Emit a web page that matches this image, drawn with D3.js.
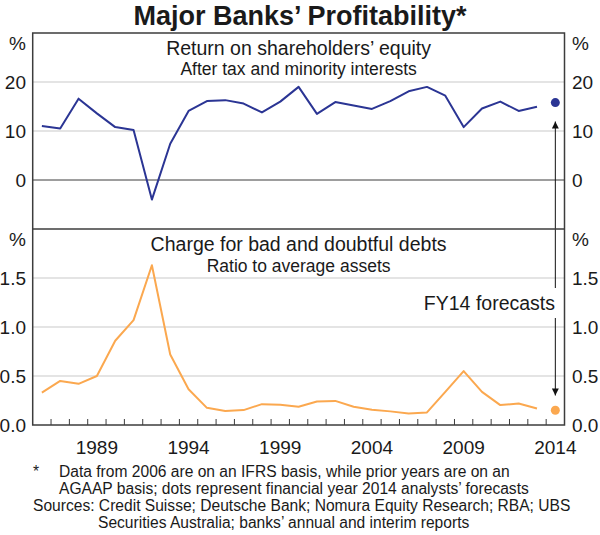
<!DOCTYPE html>
<html>
<head>
<meta charset="utf-8">
<script src="https://cdn.jsdelivr.net/npm/d3@7"></script>
<style>
  body { margin: 0; background: #fff; }
  svg text { font-family: Arial, "Liberation Sans", Helvetica, sans-serif; fill: #1a1a1a; }
</style>
</head>
<body>
<svg id="chart" width="600" height="535"></svg>
<script>
// ---- Data ----
const years = d3.range(1986, 2014); // 1986..2013
const roe = [11.0, 10.5, 16.6, 13.6, 10.8, 10.2, -4.0, 7.4, 14.1, 16.1,
             16.3, 15.6, 13.8, 16.0, 19.0, 13.5, 15.9, 15.2, 14.5, 16.1,
             18.1, 19.0, 17.2, 10.8, 14.6, 16.0, 14.1, 14.95];
const badDebts = [0.33, 0.45, 0.42, 0.50, 0.86, 1.07, 1.63, 0.72, 0.365, 0.175,
                  0.142, 0.152, 0.213, 0.206, 0.186, 0.24, 0.246, 0.186, 0.155, 0.139,
                  0.118, 0.128, 0.338, 0.55, 0.338, 0.203, 0.22, 0.169];
const forecastYear = 2014;
const roeForecast = 15.8;
const badDebtsForecast = 0.15;
const xTickLabels = [1989, 1994, 1999, 2004, 2009, 2014];
const roeTicks = [0, 10, 20];
const badDebtTicks = [0.0, 0.5, 1.0, 1.5];

// ---- Layout ----
const svg = d3.select("#chart");
const L = 32.7, R = 564.5;
const T1 = 33, B1 = 229, T2 = 229, B2 = 425;
const navy = "#2b3594", orange = "#fba84f";
const gridC = "#c9c9c9", frameC = "#3c3c3c";

const x = d3.scaleLinear().domain([1985.5, 2014.5]).range([L, R]);
const y1 = d3.scaleLinear().domain([-10, 30]).range([B1, T1]);
const y2 = d3.scaleLinear().domain([0, 2]).range([B2, T2]);

// Title
svg.append("text").attr("x", 300).attr("y", 25).attr("text-anchor", "middle")
  .style("font-size", "27px").style("font-weight", "bold").text("Major Banks\u2019 Profitability*");

// Gridlines
svg.append("g").selectAll("line").data(roeTicks.filter(d => d !== 0)).join("line")
  .attr("x1", L).attr("x2", R).attr("y1", d => y1(d)).attr("y2", d => y1(d))
  .attr("stroke", gridC).attr("stroke-width", 1);
svg.append("g").selectAll("line").data(badDebtTicks.filter(d => d !== 0)).join("line")
  .attr("x1", L).attr("x2", R).attr("y1", d => y2(d)).attr("y2", d => y2(d))
  .attr("stroke", gridC).attr("stroke-width", 1);

// Zero line top panel
svg.append("line").attr("x1", L).attr("x2", R).attr("y1", y1(0)).attr("y2", y1(0))
  .attr("stroke", frameC).attr("stroke-width", 1);

// X ticks (year boundaries) at bottom of lower panel
const tickBounds = d3.range(1986.5, 2014.5, 1);
svg.append("g").selectAll("line").data(tickBounds).join("line")
  .attr("x1", d => x(d)).attr("x2", d => x(d)).attr("y1", B2).attr("y2", B2 - 6)
  .attr("stroke", frameC).attr("stroke-width", 1);

// Lines
const line1 = d3.line().x((d, i) => x(years[i])).y(d => y1(d));
svg.append("path").datum(roe).attr("d", line1).attr("fill", "none")
  .attr("stroke", navy).attr("stroke-width", 2).attr("stroke-linejoin", "round");
const line2 = d3.line().x((d, i) => x(years[i])).y(d => y2(d));
svg.append("path").datum(badDebts).attr("d", line2).attr("fill", "none")
  .attr("stroke", orange).attr("stroke-width", 2).attr("stroke-linejoin", "round");

// Forecast dots
svg.append("circle").attr("cx", x(forecastYear)).attr("cy", y1(roeForecast)).attr("r", 4.5).attr("fill", navy);
svg.append("circle").attr("cx", x(forecastYear)).attr("cy", y2(badDebtsForecast)).attr("r", 4.5).attr("fill", orange);

// Arrows
const ax = x(forecastYear);
svg.append("defs").html(
  '<marker id="ah" viewBox="0 0 10 10" refX="10" refY="5" markerWidth="8" markerHeight="7" markerUnits="userSpaceOnUse" orient="auto">' +
  '<path d="M0,0 L10,5 L0,10 z" fill="#111"/></marker>');
svg.append("line").attr("x1", ax).attr("x2", ax).attr("y1", 288).attr("y2", 121.5)
  .attr("stroke", "#111").attr("stroke-width", 1).attr("marker-end", "url(#ah)");
svg.append("line").attr("x1", ax).attr("x2", ax).attr("y1", 318).attr("y2", 395.5)
  .attr("stroke", "#111").attr("stroke-width", 1).attr("marker-end", "url(#ah)");
svg.append("text").attr("x", 555).attr("y", 310).attr("text-anchor", "end")
  .style("font-size", "19.5px").text("FY14 forecasts");

// Frame
svg.append("rect").attr("x", L).attr("y", T1).attr("width", R - L).attr("height", B2 - T1)
  .attr("fill", "none").attr("stroke", frameC).attr("stroke-width", 1.5);
svg.append("line").attr("x1", L).attr("x2", R).attr("y1", B1).attr("y2", B1)
  .attr("stroke", frameC).attr("stroke-width", 1.5);

// Y tick labels
const fmt2 = d3.format(".1f");
function yLabels(ticks, scale, fmt, top) {
  [["end", 26], ["start", 572]].forEach(([anchor, xp]) => {
    const g = svg.append("g").style("font-size", "19px").attr("text-anchor", anchor);
    g.selectAll("text.t").data(ticks).join("text").attr("class", "t")
      .attr("x", xp).attr("y", d => scale(d) + 7).text(d => fmt(d));
    g.append("text").attr("x", xp).attr("y", top + 17).text("%");
  });
}
yLabels(roeTicks, y1, d => d3.format("d")(d), T1);
yLabels(badDebtTicks, y2, fmt2, T2);

// X tick labels
svg.append("g").style("font-size", "19px").attr("text-anchor", "middle")
  .selectAll("text").data(xTickLabels).join("text")
  .attr("x", d => x(d)).attr("y", 454).text(d => d);

// Panel titles
const cx = (L + R) / 2;
svg.append("text").attr("x", cx).attr("y", T1 + 22).attr("text-anchor", "middle")
  .style("font-size", "19.5px").text("Return on shareholders\u2019 equity");
svg.append("text").attr("x", cx).attr("y", T1 + 41.5).attr("text-anchor", "middle")
  .style("font-size", "17.5px").text("After tax and minority interests");
svg.append("text").attr("x", cx).attr("y", T2 + 22).attr("text-anchor", "middle")
  .style("font-size", "19.5px").text("Charge for bad and doubtful debts");
svg.append("text").attr("x", cx).attr("y", T2 + 42.5).attr("text-anchor", "middle")
  .style("font-size", "17.5px").text("Ratio to average assets");

// Footnotes
const fn = svg.append("g").style("font-size", "15.6px");
fn.append("text").attr("x", 33).attr("y", 477).text("*");
fn.append("text").attr("x", 59).attr("y", 477).text("Data from 2006 are on an IFRS basis, while prior years are on an");
fn.append("text").attr("x", 59).attr("y", 494).text("AGAAP basis; dots represent financial year 2014 analysts\u2019 forecasts");
fn.append("text").attr("x", 33).attr("y", 511).text("Sources: Credit Suisse; Deutsche Bank; Nomura Equity Research; RBA; UBS");
fn.append("text").attr("x", 98).attr("y", 528).text("Securities Australia; banks\u2019 annual and interim reports");
</script>
</body>
</html>
